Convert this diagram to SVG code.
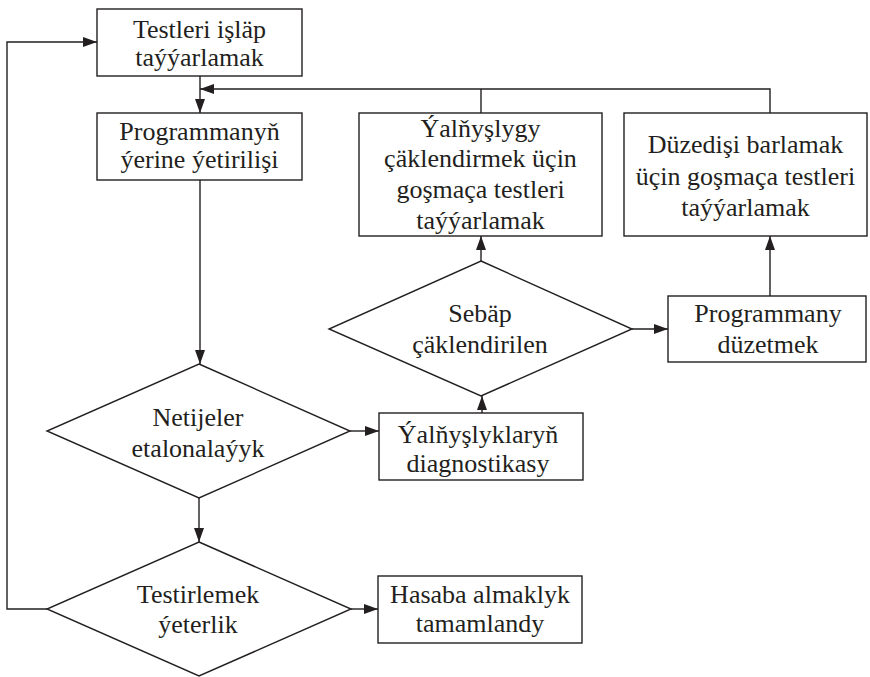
<svg xmlns="http://www.w3.org/2000/svg" width="870" height="677" viewBox="0 0 870 677">
<defs>
<marker id="ah" markerUnits="userSpaceOnUse" markerWidth="14" markerHeight="10" refX="14" refY="5" orient="auto">
<path d="M0,0 L14,5 L0,10 z" fill="#231f20"/>
</marker>
</defs>
<rect width="870" height="677" fill="#fff"/>
<g id="connectors" fill="none" stroke="#231f20" stroke-width="1.4">
<path d="M47,609 H7 V42 H97" marker-end="url(#ah)"/>
<path d="M200,76 V113" marker-end="url(#ah)"/>
<path d="M770,113 V89 H200" marker-end="url(#ah)"/>
<path d="M481,113 V89"/>
<path d="M200,180 V364" marker-end="url(#ah)"/>
<path d="M199,498 V542" marker-end="url(#ah)"/>
<path d="M350,431 H379" marker-end="url(#ah)"/>
<path d="M482,413 V396" marker-end="url(#ah)"/>
<path d="M481,261 V236" marker-end="url(#ah)"/>
<path d="M632,329 H668" marker-end="url(#ah)"/>
<path d="M770,296 V236" marker-end="url(#ah)"/>
<path d="M351,609 H378" marker-end="url(#ah)"/>
</g>
<g id="shapes" fill="#fff" stroke="#231f20" stroke-width="1.4">
<rect id="s1" x="97" y="9" width="205" height="67"/>
<rect id="s2" x="97" y="113" width="205" height="67"/>
<rect id="s3" x="359" y="113" width="243" height="123"/>
<rect id="s4" x="624" y="113" width="243" height="123"/>
<polygon id="s5" points="481,261 632,329 481,396 329,329"/>
<rect id="s6" x="668" y="296" width="198" height="66"/>
<polygon id="s7" points="199,364 350,431 199,498 47,431"/>
<rect id="s8" x="379" y="413" width="204" height="67"/>
<polygon id="s9" points="199,542 351,609 199,676 47,609"/>
<rect id="s10" x="378" y="576" width="204" height="67"/>
</g>
<g id="labels" font-family="Liberation Serif" font-size="26" fill="#231f20" text-anchor="middle">
<g id="n1">
<text x="199.5" y="37.5" font-family="Liberation Serif">Testleri işläp</text>
<text x="199.5" y="66" font-family="Liberation Serif">taýýarlamak</text>
</g>
<g id="n2">
<text x="199.5" y="140" font-family="Liberation Serif">Programmanyň</text>
<text x="199.5" y="168" font-family="Liberation Serif">ýerine ýetirilişi</text>
</g>
<g id="n3">
<text x="480.5" y="137" font-family="Liberation Serif">Ýalňyşlygy</text>
<text x="480.5" y="167" font-family="Liberation Serif">çäklendirmek üçin</text>
<text x="480.5" y="198" font-family="Liberation Serif">goşmaça testleri</text>
<text x="480.5" y="229" font-family="Liberation Serif">taýýarlamak</text>
</g>
<g id="n4">
<text x="745.5" y="153" font-family="Liberation Serif">Düzedişi barlamak</text>
<text x="745.5" y="185" font-family="Liberation Serif">üçin goşmaça testleri</text>
<text x="745.5" y="216" font-family="Liberation Serif">taýýarlamak</text>
</g>
<g id="n5">
<text x="480" y="322" font-family="Liberation Serif">Sebäp</text>
<text x="480" y="353" font-family="Liberation Serif">çäklendirilen</text>
</g>
<g id="n6">
<text x="768" y="322" font-family="Liberation Serif">Programmany</text>
<text x="768" y="353" font-family="Liberation Serif">düzetmek</text>
</g>
<g id="n7">
<text x="198" y="426" font-family="Liberation Serif">Netijeler</text>
<text x="198" y="457" font-family="Liberation Serif">etalonalaýyk</text>
</g>
<g id="n8">
<text x="478" y="443" font-family="Liberation Serif">Ýalňyşlyklaryň</text>
<text x="478" y="472" font-family="Liberation Serif">diagnostikasy</text>
</g>
<g id="n9">
<text x="198" y="603" font-family="Liberation Serif">Testirlemek</text>
<text x="198" y="633" font-family="Liberation Serif">ýeterlik</text>
</g>
<g id="n10">
<text x="480" y="603" font-family="Liberation Serif">Hasaba almaklyk</text>
<text x="480" y="632" font-family="Liberation Serif">tamamlandy</text>
</g>
</g>
</svg>
